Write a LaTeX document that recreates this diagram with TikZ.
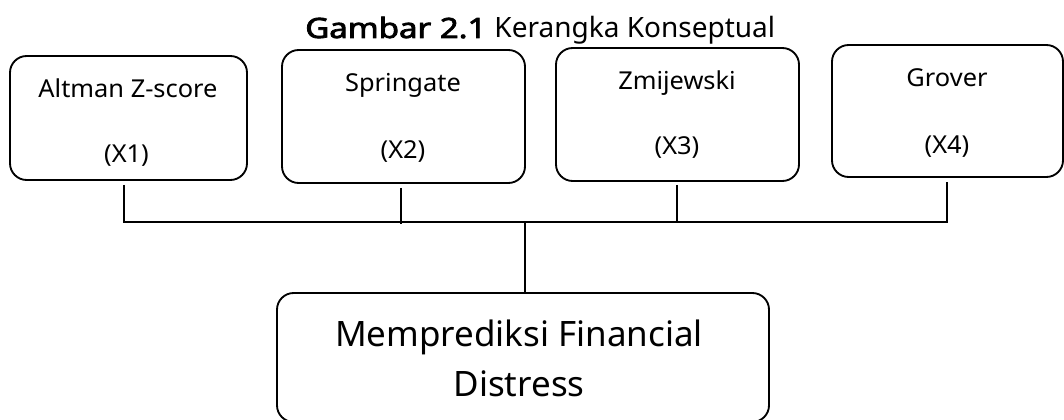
\documentclass[tikz,border=0pt]{standalone}
\usepackage{fontspec}
\setmainfont{Noto Sans}
\newfontfamily\titlebold{Noto Sans}[FakeBold=2.5]
\usetikzlibrary{calc}
\begin{document}
\begin{tikzpicture}[x=0.75pt,y=-0.75pt,
  box/.style={draw, line width=1.4pt, rounded corners=12.5pt, inner sep=0pt},
  conn/.style={line width=1.5pt},
  lbl/.style={anchor=base, inner sep=0pt, font=\fontsize{18.5}{22}\selectfont},
  big/.style={anchor=base, inner sep=0pt, font=\fontsize{26.25}{31}\selectfont},
]
\useasboundingbox (0,0) rectangle (1064,420);
\fill[white] (0,0) rectangle (1064,420);
% title
\node[anchor=base west, inner sep=0pt, font=\fontsize{21}{25}\selectfont] (title) at (305,38)
  {\scalebox{1.18}[1]{\titlebold Gambar 2.1}\hspace{6pt}Kerangka Konseptual};
% boxes
\node[box, minimum width=177.75pt, minimum height=93pt] (b1) at (128.5,118) {};
\node[box, minimum width=182.25pt, minimum height=99.75pt] (b2) at (403.5,116.5) {};
\node[box, minimum width=182.25pt, minimum height=99.75pt] (b3) at (677.5,114.5) {};
\node[box, minimum width=173.25pt, minimum height=99pt] (b4) at (947.5,111) {};
\node[box, minimum width=369pt, minimum height=96.75pt] (b5) at (523,357.5) {};
% labels
\node[lbl] (l1a) at (128,98) {\scalebox{1.03}[1]{Altman Z-score}};
\node[lbl] (l1b) at (126.5,163) {\scalebox{1.03}[1]{(X1)}};
\node[lbl] (l2a) at (403,92) {\scalebox{1.03}[1]{Springate}};
\node[lbl] (l2b) at (403,159) {\scalebox{1.03}[1]{(X2)}};
\node[lbl] (l3a) at (677,90) {\scalebox{1.03}[1]{Zmijewski}};
\node[lbl] (l3b) at (677,155) {\scalebox{1.03}[1]{(X3)}};
\node[lbl] (l4a) at (947,87) {\scalebox{1.03}[1]{Grover}};
\node[lbl] (l4b) at (947,154) {\scalebox{1.03}[1]{(X4)}};
\node[big] (l5a) at (519,347) {Memprediksi Financial};
\node[big] (l5b) at (519,397) {Distress};
% connectors
\coordinate (j1) at (124,222);
\coordinate (j2) at (400.5,222);
\coordinate (j3) at (677,222);
\coordinate (j4) at (947,222);
\coordinate (jc) at (524.5,222);
\draw[conn] ($(b1.south)+(-4.5,4)$) -- (j1) -- (j4) -- ($(b4.south)+(-0.5,4)$);
\draw[conn] ($(b2.south)+(-3,4)$) -- ($(j2)+(0,2)$);
\draw[conn] ($(b3.south)+(-0.5,3)$) -- (j3);
\draw[conn] (jc) -- (jc |- b5.north);
\end{tikzpicture}
\end{document}
